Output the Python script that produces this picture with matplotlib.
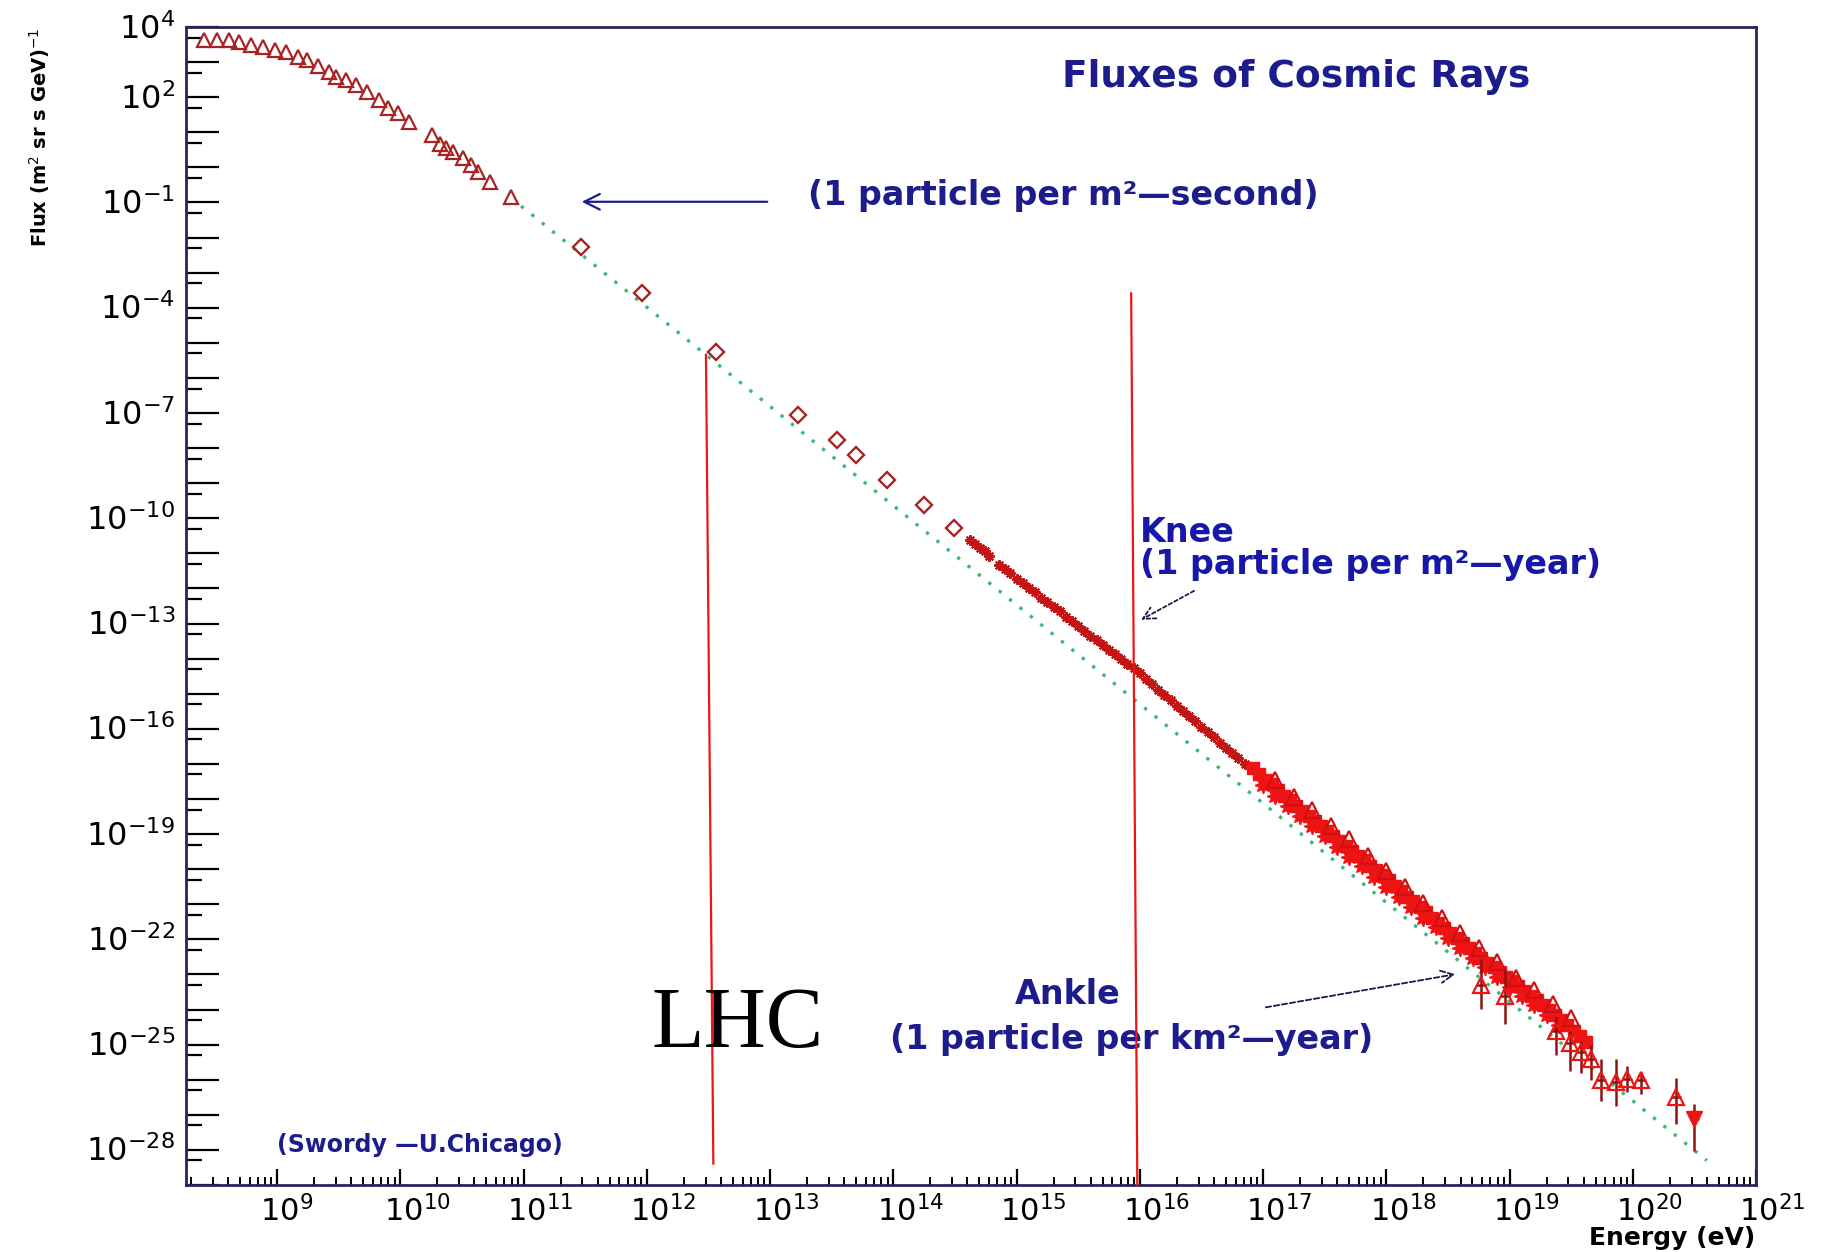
import numpy as np
import matplotlib
matplotlib.use("Agg")
import matplotlib.pyplot as plt
from matplotlib.ticker import FixedLocator, NullFormatter, LogLocator

plt.rcParams["font.family"] = ["DejaVu Sans"]
plt.rcParams["mathtext.fontset"] = "dejavusans"

# ---- data (log10 of energy in eV, log10 of flux) ----
# low-energy spectrum (open triangles)
tri_logE = [8.41, 8.51, 8.61, 8.69, 8.79, 8.89, 8.98, 9.07, 9.17, 9.24, 9.33, 9.42,
            9.48, 9.56, 9.64, 9.73, 9.83, 9.90, 9.98, 10.07, 10.26, 10.32, 10.37,
            10.43, 10.51, 10.57, 10.63, 10.73, 10.90]
tri_logF = [3.62, 3.64, 3.62, 3.58, 3.48, 3.43, 3.34, 3.29, 3.15, 3.07, 2.88, 2.72,
            2.58, 2.49, 2.34, 2.15, 1.92, 1.68, 1.54, 1.30, 0.92, 0.68, 0.54,
            0.45, 0.26, 0.07, -0.12, -0.41, -0.83]

# direct measurements (open diamonds)
dia_logE = [11.47, 11.96, 12.56, 13.23, 13.54, 13.70, 13.95, 14.25, 14.49]
dia_logF = [-2.26, -3.58, -5.25, -7.05, -7.76, -8.19, -8.90, -9.61, -10.27]

# air-shower data around the knee (asterisks)
star_logE = [14.62, 14.66, 14.70, 14.74, 14.78, 14.86, 14.91, 14.95, 15.00, 15.05,
             15.10, 15.15, 15.20, 15.25, 15.30, 15.35, 15.40, 15.45, 15.50, 15.55,
             15.60, 15.65, 15.70, 15.75, 15.80, 15.85, 15.90, 15.95, 16.00, 16.05,
             16.10, 16.15, 16.20, 16.25, 16.30, 16.35, 16.40, 16.45, 16.50, 16.55,
             16.60, 16.65, 16.70, 16.75, 16.80, 16.85]
star_logF = [-10.62, -10.72, -10.86, -10.93, -11.08, -11.33, -11.45, -11.55, -11.72, -11.84,
             -11.98, -12.10, -12.27, -12.39, -12.53, -12.65, -12.80, -12.93, -13.08, -13.20,
             -13.34, -13.47, -13.62, -13.74, -13.88, -14.01, -14.14, -14.26, -14.42, -14.58,
             -14.72, -14.88, -15.03, -15.18, -15.34, -15.49, -15.63, -15.79, -15.94, -16.09,
             -16.24, -16.40, -16.54, -16.69, -16.84, -16.99]

# high-energy air-shower data (filled squares)
band_logE = [16.92, 16.97, 17.02, 17.07, 17.12, 17.17, 17.22, 17.27, 17.32, 17.37,
             17.42, 17.47, 17.52, 17.57, 17.62, 17.67, 17.72, 17.77, 17.82, 17.87,
             17.92, 17.97, 18.02, 18.07, 18.12, 18.17, 18.22, 18.27, 18.32, 18.37,
             18.42, 18.47, 18.52, 18.57, 18.62, 18.67, 18.72, 18.77, 18.82, 18.87,
             18.92, 18.97, 19.02, 19.07, 19.12, 19.17, 19.22, 19.27, 19.32, 19.37,
             19.42, 19.47, 19.52, 19.57, 19.62]
band_logF = [-17.12, -17.28, -17.45, -17.58, -17.74, -17.90, -18.04, -18.20, -18.33, -18.48,
             -18.62, -18.78, -18.90, -19.06, -19.20, -19.35, -19.48, -19.62, -19.75, -19.90,
             -20.03, -20.17, -20.32, -20.47, -20.62, -20.78, -20.92, -21.08, -21.22, -21.38,
             -21.52, -21.67, -21.81, -21.97, -22.10, -22.25, -22.38, -22.52, -22.66, -22.80,
             -22.93, -23.07, -23.20, -23.34, -23.47, -23.61, -23.74, -23.87, -24.01, -24.15,
             -24.30, -24.44, -24.60, -24.76, -24.92]

# second high-energy data set (filled stars)
fstar_logE = [17.00, 17.10, 17.20, 17.30, 17.40, 17.50, 17.60, 17.70, 17.80, 17.90,
              18.00, 18.10, 18.20, 18.30, 18.40, 18.50, 18.60, 18.70, 18.80, 18.90,
              19.00, 19.10, 19.20, 19.30, 19.40]
fstar_logF = [-17.60, -17.90, -18.20, -18.48, -18.78, -19.05, -19.38, -19.65, -19.92, -20.22,
              -20.50, -20.80, -21.08, -21.38, -21.66, -21.95, -22.25, -22.52, -22.80, -23.08,
              -23.35, -23.62, -23.88, -24.15, -24.45]

# third high-energy data set (open triangles)
otri_logE = [17.10, 17.25, 17.40, 17.55, 17.70, 17.85, 18.00, 18.15, 18.30, 18.45,
             18.60, 18.75, 18.90, 19.05, 19.20, 19.35, 19.50]
otri_logF = [-17.45, -17.95, -18.30, -18.78, -19.15, -19.62, -20.05, -20.50, -20.95, -21.40,
             -21.82, -22.25, -22.65, -23.10, -23.45, -23.85, -24.25]

# highest-energy points with error bars
err_logE = [18.77, 18.96, 19.38, 19.49, 19.58, 19.66, 19.74, 19.86, 19.95, 20.07]
err_logF = [-23.30, -23.60, -24.60, -24.95, -25.20, -25.40, -26.00, -26.05, -25.98, -26.00]
err_lo = [-23.98, -24.40, -25.30, -25.75, -25.80, -26.00, -26.60, -26.74, -26.35, -26.40]
err_hi = [-22.56, -22.84, -24.20, -24.60, -24.90, -25.00, -25.40, -25.40, -25.60, -25.77]

top_open_logE, top_open_logF, top_open_lo, top_open_hi = [20.35], [-26.48], [-27.25], [-25.96]
top_fill_logE, top_fill_logF, top_fill_lo, top_fill_hi = [20.50], [-27.11], [-28.03], [-26.69]

# E^-2.8 guide line
guide_logE = [10.98, 20.60]
guide_logF = [-1.10, -28.30]

# reference energies marked with vertical lines
lhc_logE = [12.48, 12.54]
lhc_logF = [-5.34, -28.39]
knee_logE = [15.93, 15.98]
knee_logF = [-3.59, -29.00]

x_label_exps = list(range(9, 22))
y_label_exps = [4, 2, -1, -4, -7, -10, -13, -16, -19, -22, -25, -28]

NAVY = "#1c1c8c"
DARKRED = "#a82424"
RED = "#ee1414"


def p(a):
    return 10.0 ** np.asarray(a, dtype=float)


fig = plt.figure(figsize=(18.26, 12.52), dpi=100)
ax = fig.add_axes([0.1019, 0.0535, 0.8598, 0.9249])
ax.set_xscale("log")
ax.set_yscale("log")
ax.set_xlim(10 ** 8.262, 1e21)
ax.set_ylim(1e-29, 1e4)

# guide line
ax.plot(p(guide_logE), p(guide_logF), ls=(0, (1, 3)), lw=2.4, color="#3cb878", zorder=1)

# spectra
ax.plot(p(tri_logE), p(tri_logF), ls="none", marker="^", ms=10.5, mfc="none",
        mec=DARKRED, mew=1.6, zorder=3)
ax.plot(p(dia_logE), p(dia_logF), ls="none", marker="D", ms=8, mfc="none",
        mec=DARKRED, mew=1.7, zorder=3)
ax.plot(p(star_logE), p(star_logF), ls="none", marker=(8, 2, 0), ms=7.5,
        mec="#c41414", mew=1.5, zorder=3)
ax.plot(p(fstar_logE), p(fstar_logF), ls="none", marker=(8, 1, 0), ms=12, mfc=RED,
        mec=RED, zorder=3)
ax.plot(p(band_logE), p(band_logF), ls="none", marker="s", ms=9, mfc=RED,
        mec=RED, zorder=3)
ax.plot(p(otri_logE), p(otri_logF), ls="none", marker="^", ms=12, mfc="none",
        mec="#d01010", mew=1.6, zorder=3)


def bars(logE, logF, lo, hi, **kw):
    E, F = p(logE), p(logF)
    yerr = [F - p(lo), p(hi) - F]
    xerr = [E * (1 - 10 ** -0.04), E * (10 ** 0.04 - 1)]
    ax.errorbar(E, F, yerr=yerr, xerr=xerr, ecolor="#8e1212", elinewidth=1.8,
                capsize=0, zorder=4, **kw)


bars(err_logE, err_logF, err_lo, err_hi, fmt="^", ms=11, mfc="none", mec=RED, mew=1.6)
bars(top_open_logE, top_open_logF, top_open_lo, top_open_hi,
     fmt="^", ms=12, mfc="none", mec=RED, mew=1.6)
bars(top_fill_logE, top_fill_logF, top_fill_lo, top_fill_hi,
     fmt="v", ms=11, mfc=RED, mec=RED)

# vertical marker lines
ax.plot(p(lhc_logE), p(lhc_logF), color=RED, lw=1.6, zorder=6, clip_on=False)
ax.plot(p(knee_logE), p(knee_logF), color=RED, lw=1.6, zorder=6, clip_on=False)

# annotations
ax.text(0.707, 0.948, "Fluxes of Cosmic Rays", transform=ax.transAxes, ha="center",
        va="baseline", fontsize=27, fontweight="bold", color=NAVY)
ax.text(10 ** 13.31, 10 ** -1.07, "(1 particle per m²—second)", ha="left",
        va="baseline", fontsize=24, fontweight="bold", color=NAVY)
ax.annotate("", xy=(10 ** 11.45, 10 ** -0.98), xytext=(10 ** 13.0, 10 ** -0.98),
            arrowprops=dict(arrowstyle="->", color=NAVY, lw=1.6, mutation_scale=28))

ax.text(10 ** 16.0, 10 ** -11.58, "Knee\n(1 particle per m²—year)", ha="left",
        va="baseline", fontsize=24, fontweight="bold", color="#1818a8", linespacing=0.95)
ax.annotate("", xy=(10 ** 15.99, 10 ** -12.93), xytext=(10 ** 16.46, 10 ** -12.03),
            arrowprops=dict(arrowstyle="->", color="#1a1a50", lw=1.3,
                            linestyle=(0, (2, 1.5)), mutation_scale=22))

ax.text(10 ** 14.99, 10 ** -23.84, "Ankle", ha="left", va="baseline", fontsize=24,
        fontweight="bold", color=NAVY)
ax.text(10 ** 13.97, 10 ** -25.12, "(1 particle per km²—year)", ha="left", va="baseline",
        fontsize=24, fontweight="bold", color=NAVY)
ax.annotate("", xy=(10 ** 18.58, 10 ** -22.98), xytext=(10 ** 17.0, 10 ** -23.95),
            arrowprops=dict(arrowstyle="->", color="#1a1a50", lw=1.3,
                            linestyle=(0, (3, 1.5)), mutation_scale=22))

ax.text(10 ** 9.0, 10 ** -28.05, "(Swordy —U.Chicago)", ha="left", va="baseline",
        fontsize=17, fontweight="bold", color=NAVY)

ax.text(10 ** 12.04, 10 ** -25.06, "LHC", ha="left", va="baseline", fontsize=62,
        family=["Liberation Serif", "DejaVu Serif"], color="black", zorder=7)

# axes frame and ticks
for s in ax.spines.values():
    s.set_color("#26265e")
    s.set_linewidth(2.0)

ax.yaxis.set_major_locator(FixedLocator([10.0 ** k for k in range(-29, 5)]))
ax.yaxis.set_minor_locator(FixedLocator([5 * 10.0 ** k for k in range(-30, 4)]))
ax.xaxis.set_major_locator(FixedLocator([10.0 ** k for k in range(8, 22)]))
ax.xaxis.set_minor_locator(LogLocator(base=10, subs=np.arange(2, 10), numticks=100))
for axis in (ax.xaxis, ax.yaxis):
    axis.set_major_formatter(NullFormatter())
    axis.set_minor_formatter(NullFormatter())

ax.tick_params(axis="both", which="both", direction="in", colors="black",
               top=False, right=False)
ax.tick_params(axis="y", which="major", length=23.5, width=1.6)
ax.tick_params(axis="y", which="minor", length=11.5, width=1.6)
ax.tick_params(axis="x", which="major", length=11.5, width=1.6)
ax.tick_params(axis="x", which="minor", length=5.8, width=1.4)

for e in y_label_exps:
    ax.annotate(rf"$10^{{{e}}}$", xy=(0, 10.0 ** e), xycoords=("axes fraction", "data"),
                xytext=(-8, -8.3), textcoords="offset points", ha="right", va="baseline",
                fontsize=23, annotation_clip=False)
for e in x_label_exps:
    ax.annotate(rf"$10^{{{e}}}$", xy=(10.0 ** e, 0), xycoords=("data", "axes fraction"),
                xytext=(-12, -26), textcoords="offset points", ha="left", va="baseline",
                fontsize=22, annotation_clip=False)

# axis titles
fig.text(0.0215, 0.89, r"Flux (m$^{2}$ sr s GeV)$^{-1}$", rotation=90, ha="center",
         va="center", fontsize=14, fontweight="bold")
fig.text(0.961, 0.0058, "Energy (eV)", ha="right", va="baseline", fontsize=18,
         fontweight="bold")

fig.savefig("out.png", dpi=100, facecolor="white")
